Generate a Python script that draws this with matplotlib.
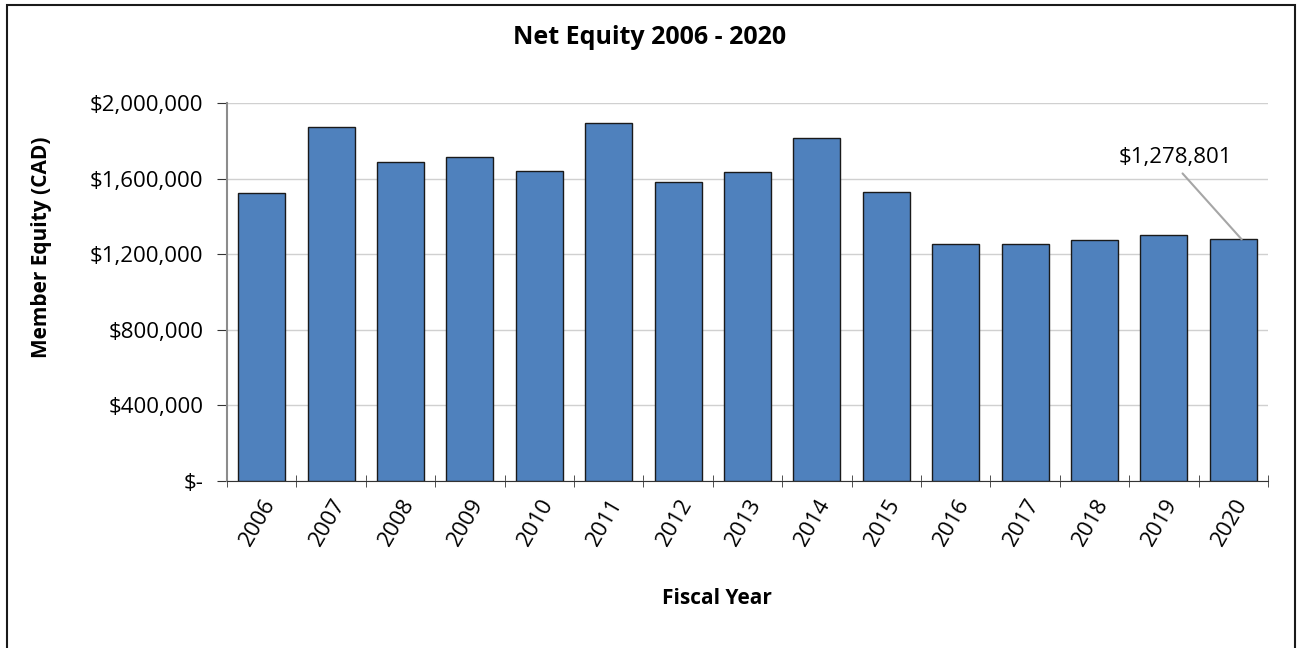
import matplotlib
matplotlib.use("Agg")
import matplotlib.pyplot as plt
from matplotlib.patches import Rectangle
from matplotlib.ticker import FuncFormatter, FixedLocator

years = ["2006", "2007", "2008", "2009", "2010", "2011", "2012", "2013",
         "2014", "2015", "2016", "2017", "2018", "2019", "2020"]
equity = [1524000, 1873000, 1686000, 1712000, 1640000, 1896000, 1582000, 1633000,
          1815000, 1529000, 1256000, 1252000, 1273000, 1300000, 1278801]

plt.rcParams["font.family"] = ["Open Sans", "DejaVu Sans"]

fig = plt.figure(figsize=(13, 6.48), dpi=100)
ax = fig.add_axes([227 / 1300, 1 - 481 / 648, (1268 - 227) / 1300, (481 - 103) / 648])

x = list(range(len(years)))
ax.bar(x, equity, width=0.68, color="#4f81bd", edgecolor="#1a1a1a", linewidth=1.0, zorder=3)

ax.set_xlim(-0.5, len(years) - 0.5)
ax.set_ylim(0, 2000000)
ax.set_yticks([0, 400000, 800000, 1200000, 1600000, 2000000])
ax.yaxis.set_major_formatter(FuncFormatter(lambda v, p: "$-" if v == 0 else "${:,.0f}".format(v)))
ax.grid(axis="y", color="#d0d0d0", linewidth=1.0, zorder=0)

ax.set_xticks(x)
ax.set_xticklabels(years, rotation=60, ha="right", rotation_mode="anchor")
ax.xaxis.set_minor_locator(FixedLocator([i - 0.5 for i in range(len(years) + 1)]))
ax.tick_params(axis="x", which="major", length=0, labelsize=16, pad=10)
ax.tick_params(axis="x", which="minor", length=8, direction="inout", color="#333333")
ax.tick_params(axis="y", length=7, color="#333333", labelsize=16, pad=10)

for s in ["top", "right"]:
    ax.spines[s].set_visible(False)
ax.spines["left"].set_color("#8c8c8c")
ax.spines["left"].set_linewidth(1.5)
ax.spines["bottom"].set_color("#333333")

fig.text(0.5, 1 - 38 / 648, "Net Equity 2006 - 2020", ha="center", va="center",
         fontsize=18, fontweight="bold")
fig.text(42 / 1300, 1 - 247 / 648, "Member Equity (CAD)", ha="center", va="center",
         rotation=90, fontsize=15, fontweight="bold")
fig.text(717 / 1300, 1 - 599 / 648, "Fiscal Year", ha="center", va="center",
         fontsize=15, fontweight="bold")

ax.annotate("${:,.0f}".format(equity[-1]), xy=(len(years) - 1 + 0.12, equity[-1]),
            xytext=(13.16, 1714000), ha="center", va="center", fontsize=16,
            arrowprops=dict(arrowstyle="-", color="#a6a6a6", linewidth=1.5,
                            relpos=(0.52, 0.0), shrinkA=3, shrinkB=0))

fig.patches.append(Rectangle((7 / 1300, -0.1), (1295 - 7) / 1300, 1.1 - 5 / 648,
                             transform=fig.transFigure, fill=False,
                             edgecolor="#1a1a1a", linewidth=1.5))

fig.savefig("out.png", dpi=100)
